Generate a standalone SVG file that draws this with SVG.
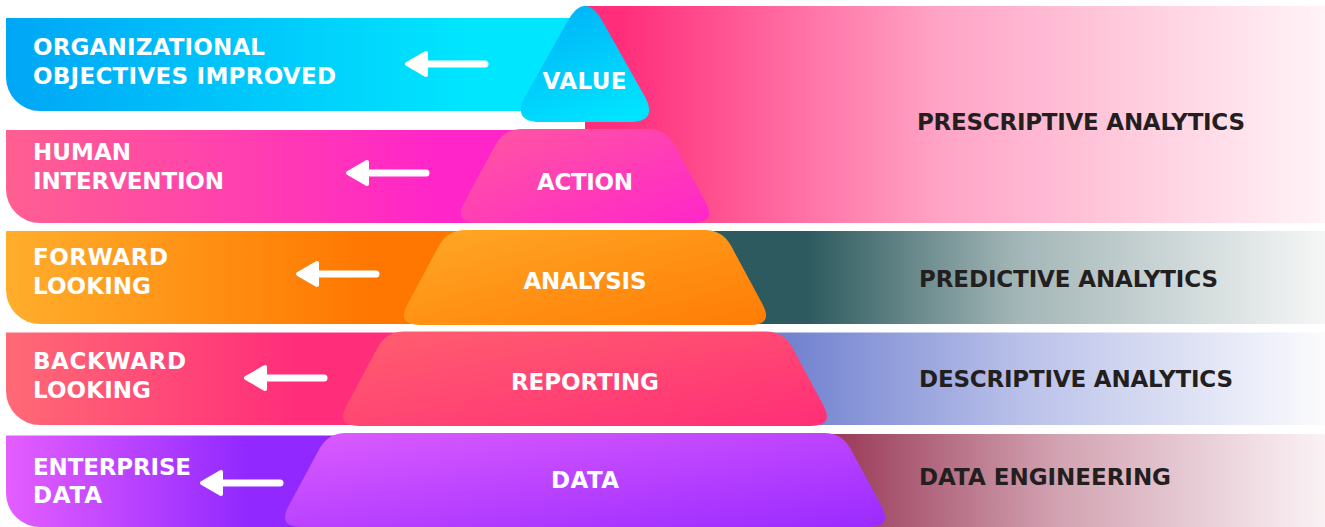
<svg xmlns="http://www.w3.org/2000/svg" width="1325" height="527" viewBox="0 0 1325 527">
<defs>
<linearGradient id="gCyan" gradientUnits="userSpaceOnUse" x1="6" y1="0" x2="470" y2="0"><stop offset="0" stop-color="#00a6f6"/><stop offset="1" stop-color="#00e6ff"/></linearGradient>
<linearGradient id="gPink" gradientUnits="userSpaceOnUse" x1="6" y1="0" x2="440" y2="0"><stop offset="0" stop-color="#ff5f91"/><stop offset="1" stop-color="#ff25c9"/></linearGradient>
<linearGradient id="gOrange" gradientUnits="userSpaceOnUse" x1="6" y1="0" x2="370" y2="0"><stop offset="0" stop-color="#ffae2c"/><stop offset="1" stop-color="#ff7700"/></linearGradient>
<linearGradient id="gRed" gradientUnits="userSpaceOnUse" x1="6" y1="0" x2="300" y2="0"><stop offset="0" stop-color="#ff6a75"/><stop offset="1" stop-color="#ff2d7a"/></linearGradient>
<linearGradient id="gPurple" gradientUnits="userSpaceOnUse" x1="6" y1="0" x2="250" y2="0"><stop offset="0" stop-color="#e45eff"/><stop offset="1" stop-color="#9128ff"/></linearGradient>
<linearGradient id="gPresc" gradientUnits="userSpaceOnUse" x1="620" y1="0" x2="1325" y2="0"><stop offset="0" stop-color="#ff2d7a"/><stop offset="0.45" stop-color="#ffa3c4"/><stop offset="1" stop-color="#fff4f7"/></linearGradient>
<linearGradient id="gPred" gradientUnits="userSpaceOnUse" x1="808" y1="0" x2="1325" y2="0"><stop offset="0" stop-color="#2d5a5e"/><stop offset="0.4" stop-color="#a2b5b6"/><stop offset="1" stop-color="#f5f6f6"/></linearGradient>
<linearGradient id="gDesc" gradientUnits="userSpaceOnUse" x1="790" y1="0" x2="1325" y2="0"><stop offset="0" stop-color="#7282d0"/><stop offset="0.45" stop-color="#bcc3ea"/><stop offset="1" stop-color="#fbfbfd"/></linearGradient>
<linearGradient id="gEng" gradientUnits="userSpaceOnUse" x1="845" y1="0" x2="1325" y2="0"><stop offset="0" stop-color="#9c3f5c"/><stop offset="0.45" stop-color="#d3a4b3"/><stop offset="1" stop-color="#faf2f4"/></linearGradient>
<linearGradient id="tValue" x1="0.3" y1="0" x2="0.7" y2="1"><stop offset="0" stop-color="#00b4f8"/><stop offset="1" stop-color="#00e4ff"/></linearGradient>
<linearGradient id="tAction" x1="0" y1="0" x2="1" y2="1"><stop offset="0" stop-color="#ff58a0"/><stop offset="1" stop-color="#ff26ca"/></linearGradient>
<linearGradient id="tAnalysis" x1="0" y1="0" x2="1" y2="1"><stop offset="0" stop-color="#ffa826"/><stop offset="1" stop-color="#ff7c05"/></linearGradient>
<linearGradient id="tReporting" x1="0" y1="0" x2="1" y2="1"><stop offset="0" stop-color="#ff5f6e"/><stop offset="1" stop-color="#ff2e78"/></linearGradient>
<linearGradient id="tData" x1="0" y1="0" x2="1" y2="1"><stop offset="0" stop-color="#dc5cff"/><stop offset="1" stop-color="#9a2aff"/></linearGradient>
<g id="arrow">
<path d="M2,0 L21,-11 L21,11 Z" fill="#fff" stroke="#fff" stroke-width="4" stroke-linejoin="round"/>
<line x1="19" y1="0" x2="80" y2="0" stroke="#fff" stroke-width="7" stroke-linecap="round"/>
</g>
</defs>
<style>
text{font-family:"DejaVu Sans","Liberation Sans",sans-serif;font-weight:bold;font-size:23px}
.lt{fill:#ffffff}
.ct{fill:#ffffff;text-anchor:middle}
.rt{fill:#231f20}
</style>
<g id="band-organizational">
<path d="M6,18 H585 V111 H40 A34 34 0 0 1 6,77 Z" fill="url(#gCyan)"/>
<text class="lt" x="33" y="55" textLength="232">ORGANIZATIONAL</text>
<text class="lt" x="33" y="83.5" textLength="303">OBJECTIVES IMPROVED</text>
</g>
<g id="band-human">
<path d="M6,130 H585 V223 H40 A34 34 0 0 1 6,189 Z" fill="url(#gPink)"/>
<text class="lt" x="33" y="160" textLength="98">HUMAN</text>
<text class="lt" x="33" y="188.5" textLength="191">INTERVENTION</text>
</g>
<g id="band-forward">
<path d="M6,231 H585 V324 H40 A34 34 0 0 1 6,290 Z" fill="url(#gOrange)"/>
<text class="lt" x="33" y="264.5" textLength="135">FORWARD</text>
<text class="lt" x="33" y="293.5" textLength="118">LOOKING</text>
</g>
<g id="band-backward">
<path d="M6,332.5 H585 V425 H40 A34 34 0 0 1 6,391 Z" fill="url(#gRed)"/>
<text class="lt" x="33" y="369" textLength="153">BACKWARD</text>
<text class="lt" x="33" y="397.5" textLength="118">LOOKING</text>
</g>
<g id="band-enterprise">
<path d="M6,435.5 H585 V527 H40 A34 34 0 0 1 6,493 Z" fill="url(#gPurple)"/>
<text class="lt" x="33" y="475" textLength="158">ENTERPRISE</text>
<text class="lt" x="33" y="503" textLength="69">DATA</text>
</g>
<g id="analytics-prescriptive">
<rect x="585" y="6" width="740" height="217" fill="url(#gPresc)"/>
<text class="rt" x="917" y="130" textLength="328">PRESCRIPTIVE ANALYTICS</text>
</g>
<g id="analytics-predictive">
<rect x="585" y="231" width="740" height="93" fill="url(#gPred)"/>
<text class="rt" x="919" y="287" textLength="299">PREDICTIVE ANALYTICS</text>
</g>
<g id="analytics-descriptive">
<rect x="585" y="332.5" width="740" height="92.5" fill="url(#gDesc)"/>
<text class="rt" x="919" y="387" textLength="314">DESCRIPTIVE ANALYTICS</text>
</g>
<g id="analytics-engineering">
<rect x="585" y="434" width="740" height="93" fill="url(#gEng)"/>
<text class="rt" x="919" y="485" textLength="252">DATA ENGINEERING</text>
</g>
<g id="connectors">
<use href="#arrow" x="405" y="64"/>
<use href="#arrow" x="346" y="173"/>
<use href="#arrow" x="296" y="274"/>
<use href="#arrow" x="244" y="378"/>
<use href="#arrow" x="200" y="483"/>
</g>
<g id="level-value">
<path d="M567.41,21.41 Q585,-10 602.59,21.41 L644.34,95.83 Q659,122 629,122 L541,122 Q511,122 525.66,95.83 Z" fill="url(#tValue)"/>
<text class="ct" x="584.5" y="89" textLength="84">VALUE</text>
</g>
<g id="level-action">
<path d="M522,129 L648,129 Q666,129 674.55,144.84 L705.4,201.88 Q716.8,223 692.8,223 L477.2,223 Q453.2,223 464.6,201.88 L495.45,144.84 Q504,129 522,129 Z" fill="url(#tAction)"/>
<text class="ct" x="585" y="190" textLength="96">ACTION</text>
</g>
<g id="level-analysis">
<path d="M465.5,230 L704.5,230 Q722.5,230 731.05,245.84 L762.4,303.88 Q773.8,325 749.8,325 L420.2,325 Q396.2,325 407.6,303.88 L438.95,245.84 Q447.5,230 465.5,230 Z" fill="url(#tAnalysis)"/>
<text class="ct" x="585" y="289" textLength="123">ANALYSIS</text>
</g>
<g id="level-reporting">
<path d="M404.4,331.5 L765.6,331.5 Q783.6,331.5 792.15,347.34 L823.2,404.88 Q834.6,426 810.6,426 L359.4,426 Q335.4,426 346.8,404.88 L377.85,347.34 Q386.4,331.5 404.4,331.5 Z" fill="url(#tReporting)"/>
<text class="ct" x="585" y="390" textLength="148">REPORTING</text>
</g>
<g id="level-data">
<path d="M346,433 L824,433 Q842,433 850.55,448.84 L881.4,505.88 Q892.8,527 868.8,527 L301.2,527 Q277.2,527 288.6,505.88 L319.45,448.84 Q328,433 346,433 Z" fill="url(#tData)"/>
<text class="ct" x="585" y="488" textLength="68">DATA</text>
</g>
</svg>
